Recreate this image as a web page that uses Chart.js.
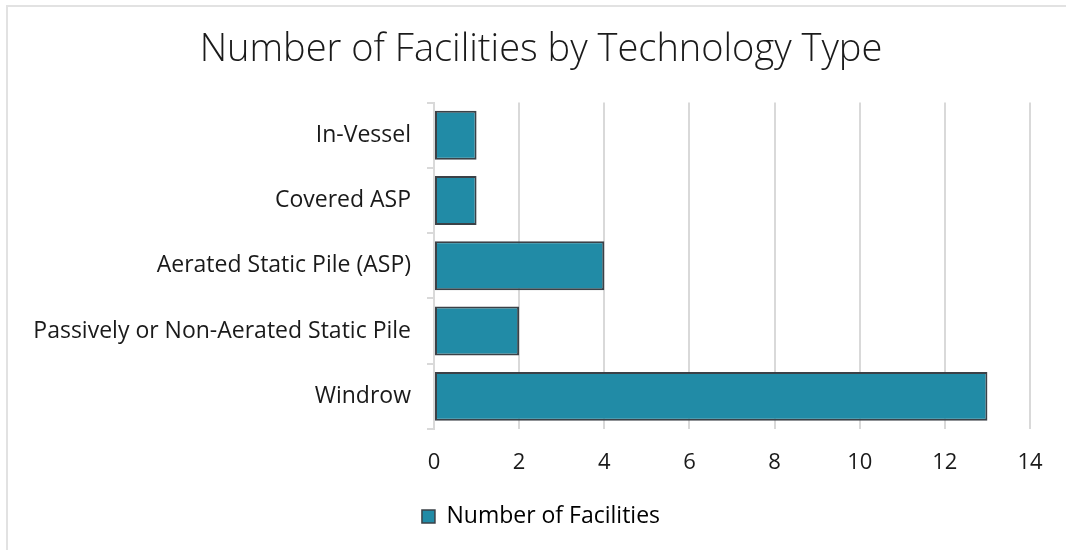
<!DOCTYPE html>
<html>
<head>
<meta charset="utf-8">
<script src="https://cdn.jsdelivr.net/npm/chart.js@4"></script>
<style>
  body { margin: 0; background: #fff; }
  #wrap { position: relative; width: 1066px; height: 550px; }
  #frame {
    position: absolute; left: 6px; top: 5px; right: 0; bottom: 0;
    border-left: 2px solid #e2e2e2; border-top: 2px solid #e2e2e2;
    pointer-events: none;
  }
</style>
</head>
<body>
<div id="wrap">
  <canvas id="techChart" width="1066" height="550"></canvas>
  <div id="frame"></div>
</div>
<script>
const technologies = [
  "In-Vessel",
  "Covered ASP",
  "Aerated Static Pile (ASP)",
  "Passively or Non-Aerated Static Pile",
  "Windrow"
];
const facilityCounts = [1, 1, 4, 2, 13];
const seriesName = "Number of Facilities";
const xTicks = [0, 2, 4, 6, 8, 10, 12, 14];

const fontFamily = "'Open Sans', 'Noto Sans', sans-serif";
const gridColor = "#d9d9d9";
const textColor = "#1a1a1a";

// title and legend sit a little right of the canvas centre
const nudgeBlocks = {
  id: "nudgeBlocks",
  afterLayout(chart) {
    [chart.titleBlock, chart.legend].forEach(b => {
      if (!b) return;
      b.left += 26;
      b.right += 26;
    });
  }
};

const ctx = document.getElementById("techChart").getContext("2d");

new Chart(ctx, {
  type: "bar",
  data: {
    labels: technologies,
    datasets: [{
      label: seriesName,
      data: facilityCounts,
      backgroundColor: "#218ba6",
      borderColor: "#3b4147",
      borderWidth: 2,
      borderSkipped: false,
      categoryPercentage: 1,
      barPercentage: 0.75
    }]
  },
  options: {
    indexAxis: "y",
    responsive: false,
    animation: false,
    layout: { padding: { left: 0, right: 36, top: 0, bottom: 12 } },
    plugins: {
      title: {
        display: true,
        text: "Number of Facilities by Technology Type",
        color: textColor,
        font: { family: fontFamily, size: 38, weight: 300 },
        padding: { top: 27, bottom: 30 }
      },
      legend: {
        position: "bottom",
        labels: {
          color: textColor,
          font: { family: fontFamily, size: 23 },
          boxWidth: 13,
          boxHeight: 13,
          padding: 6,
          generateLabels: chart => [{
            text: seriesName,
            fillStyle: "#218ba6",
            strokeStyle: "#3b4147",
            lineWidth: 1.5,
            datasetIndex: 0
          }]
        }
      },
      tooltip: { enabled: false }
    },
    scales: {
      x: {
        min: 0,
        max: 14,
        afterBuildTicks: axis => { axis.ticks = xTicks.map(v => ({ value: v })); },
        grid: { color: gridColor, lineWidth: 2, drawTicks: false },
        border: { display: false },
        ticks: {
          color: textColor,
          font: { family: fontFamily, size: 22 },
          padding: 21
        },
        afterFit: axis => { axis.height = 70; }
      },
      y: {
        grid: {
          color: gridColor,
          lineWidth: 2,
          drawOnChartArea: false,
          drawTicks: true,
          tickLength: 7,
          offset: true
        },
        border: { display: true, color: gridColor, width: 2 },
        ticks: {
          color: textColor,
          font: { family: fontFamily, size: 23 },
          padding: 16
        },
        afterFit: axis => { axis.width = 434; }
      }
    }
  },
  plugins: [nudgeBlocks]
});
</script>
</body>
</html>
